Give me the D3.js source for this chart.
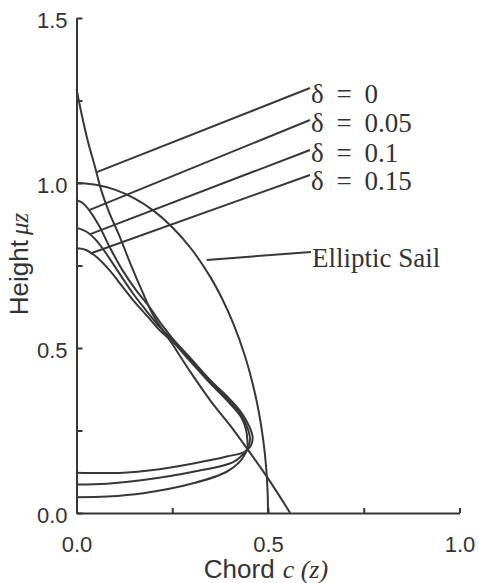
<!DOCTYPE html>
<html>
<head>
<meta charset="utf-8">
<script src="https://cdn.jsdelivr.net/npm/d3@7"></script>
<style>
  body { margin: 0; background: #fff; }
  svg { display: block; }
  .tick text { font-family: "Liberation Sans", Arial, sans-serif; font-size: 22px; fill: #333; }
</style>
</head>
<body>
<svg width="478" height="583"></svg>
<script>
// values, [chord, height]
const deltas = ['0', '0.05', '0.1', '0.15'];

const sailD0 = [[0, 1.285], [0.015, 1.2], [0.03, 1.125], [0.048, 1.05], [0.064, 0.98], [0.085, 0.912],
  [0.112, 0.84], [0.142, 0.752], [0.173, 0.668], [0.2, 0.6], [0.25, 0.512], [0.3, 0.423],
  [0.35, 0.34], [0.4, 0.267], [0.445, 0.196], [0.5, 0.105], [0.558, 0]];

const sailD05 = [[0, 0.948], [0.015, 0.94], [0.033, 0.918], [0.06, 0.868], [0.086, 0.807], [0.12, 0.736],
  [0.155, 0.676], [0.19, 0.625], [0.225, 0.567], [0.25, 0.53], [0.3, 0.466], [0.35, 0.402],
  [0.4, 0.345], [0.43, 0.305], [0.452, 0.26], [0.46, 0.228], [0.455, 0.203],
  [0.445, 0.19], [0.43, 0.16], [0.392, 0.125], [0.305, 0.09], [0.174, 0.06], [0.08, 0.05], [0, 0.048]];

const sailD10 = [[0, 0.864], [0.025, 0.853], [0.051, 0.827], [0.077, 0.787], [0.112, 0.726], [0.147, 0.666],
  [0.181, 0.615], [0.216, 0.565], [0.25, 0.525], [0.3, 0.461], [0.35, 0.397],
  [0.4, 0.338], [0.43, 0.297], [0.447, 0.256], [0.453, 0.223], [0.448, 0.198], [0.444, 0.19],
  [0.41, 0.155], [0.305, 0.125], [0.174, 0.1], [0.08, 0.089], [0, 0.086]];

const sailD15 = [[0, 0.802], [0.025, 0.797], [0.051, 0.777], [0.086, 0.736], [0.12, 0.686], [0.155, 0.635],
  [0.19, 0.59], [0.216, 0.555], [0.25, 0.52], [0.3, 0.456], [0.35, 0.392],
  [0.4, 0.332], [0.43, 0.29], [0.442, 0.255], [0.446, 0.222], [0.444, 0.19], [0.392, 0.171],
  [0.305, 0.15], [0.2, 0.13], [0.122, 0.122], [0, 0.122]];

const ellipticSail = [[0, 1.0], [0.05, 0.995], [0.1, 0.98], [0.15, 0.954], [0.2, 0.917], [0.25, 0.866],
  [0.3, 0.8], [0.35, 0.714], [0.38, 0.65], [0.41, 0.572], [0.44, 0.475], [0.46, 0.392],
  [0.475, 0.312], [0.487, 0.226], [0.495, 0.141], [0.499, 0.063], [0.5, 0]];

// where each leader line touches its curve
const labelAnchors = [[0.053, 1.033], [0.033, 0.918], [0.036, 0.845], [0.04, 0.788], [0.34, 0.767]];

const xTicks = [0, 0.25, 0.5, 0.75, 1.0];
const yTicks = [0, 0.25, 0.5, 0.75, 1.0, 1.25, 1.5];

const ink = '#353836';
const svg = d3.select('svg');

const x = d3.scaleLinear().domain([0, 1]).range([76.5, 459.5]);
const y = d3.scaleLinear().domain([0, 1.5]).range([513, 18]);

const fmt = d => (d % 0.5 === 0 ? d.toFixed(1) : '');

const xAxis = svg.append('g').attr('transform', 'translate(0,513)')
  .call(d3.axisBottom(x).tickValues(xTicks).tickSize(-5).tickSizeOuter(0).tickPadding(23).tickFormat(fmt));
const yAxis = svg.append('g').attr('transform', 'translate(76.5,0)')
  .call(d3.axisLeft(y).tickValues(yTicks).tickSize(-6).tickSizeOuter(0).tickPadding(9).tickFormat(fmt));
yAxis.selectAll('text').attr('dy', '0.45em');
[xAxis, yAxis].forEach(a => a.selectAll('path, line').attr('stroke', ink).attr('stroke-width', 2));

const line = d3.line()
  .x(d => x(d[0]))
  .y(d => y(d[1]))
  .curve(d3.curveCatmullRom.alpha(0.5));

const series = [sailD0, sailD05, sailD10, sailD15, ellipticSail];
svg.append('g').selectAll('path').data(series).enter().append('path')
  .attr('d', line)
  .attr('fill', 'none')
  .attr('stroke', ink)
  .attr('stroke-width', 2)
  .attr('stroke-linejoin', 'round');

// leader lines and their labels
const labelText = deltas.map(d => `δ = ${d}`).concat(['Elliptic Sail']);
const labelEnds = [[310, 88], [310, 120], [310, 150], [310, 175], [311, 252]];
const labelBase = [103, 132, 162, 190, 267];

labelAnchors.forEach((a, i) => {
  svg.append('line')
    .attr('x1', x(a[0])).attr('y1', y(a[1]))
    .attr('x2', labelEnds[i][0]).attr('y2', labelEnds[i][1])
    .attr('stroke', ink).attr('stroke-width', 2);
  svg.append('text')
    .attr('x', labelEnds[i][0] + 1).attr('y', labelBase[i])
    .attr('font-family', '"Liberation Serif", "Times New Roman", serif')
    .attr('font-size', 27)
    .attr('fill', '#333')
    .style('word-spacing', i < 4 ? '6px' : '0px')
    .text(labelText[i]);
});

// axis titles
const yTitle = svg.append('text')
  .attr('transform', 'translate(28,264) rotate(-90)')
  .attr('text-anchor', 'middle')
  .attr('fill', '#333');
yTitle.append('tspan')
  .attr('font-family', '"Liberation Sans", Arial, sans-serif').attr('font-size', 26)
  .text('Height');
yTitle.append('tspan')
  .attr('dx', 5)
  .attr('font-family', '"Liberation Serif", "Times New Roman", serif').attr('font-style', 'italic').attr('font-size', 25)
  .text('μz');

const xTitle = svg.append('text')
  .attr('x', 266).attr('y', 578)
  .attr('text-anchor', 'middle')
  .attr('fill', '#333');
xTitle.append('tspan')
  .attr('font-family', '"Liberation Sans", Arial, sans-serif').attr('font-size', 26)
  .text('Chord');
xTitle.append('tspan')
  .attr('dx', 8)
  .attr('font-family', '"Liberation Serif", "Times New Roman", serif').attr('font-style', 'italic').attr('font-size', 26)
  .text('c (z)');
</script>
</body>
</html>
